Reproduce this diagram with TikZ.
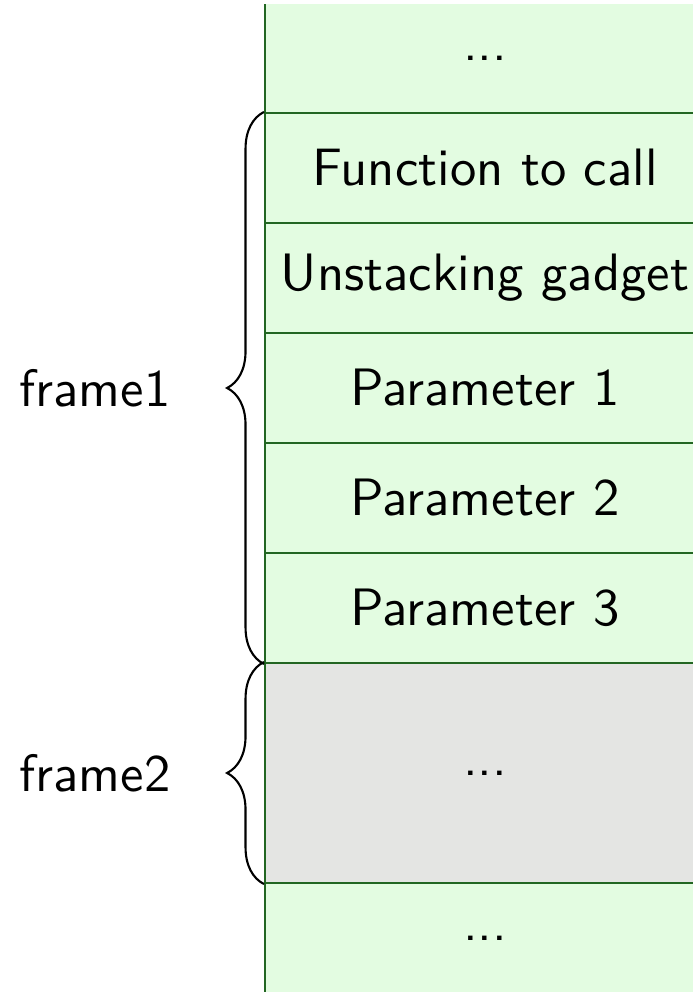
\documentclass[tikz,border=0pt]{standalone}
\usepackage{tikz}
\usetikzlibrary{decorations.pathreplacing}

\definecolor{stackline}{RGB}{34,102,34}
\definecolor{stackfill}{RGB}{227,252,225}
\definecolor{otherfill}{RGB}{228,229,227}

\begin{document}
\begin{tikzpicture}[x=0.19pt, y=0.19pt, every node/.style={font=\sffamily},
        cell/.style={draw=stackline, fill=stackfill, minimum width=83.6pt, minimum height=20.9pt, inner sep=0pt},
        bracket/.style={decorate, decoration={brace, amplitude=7pt}}]
        \useasboundingbox (0,0) rectangle (693,992);
        \clip (0,0) rectangle (693,987.5);

        % Stack cells
        \node[cell] (c1) at (485,934) {...};
        \foreach \txt [count=\i from 2] in {Function to call, Unstacking gadget, Parameter 1, Parameter 2, Parameter 3} {
            \node[cell] (c\i) at (485,1044-110*\i) {\txt};
        }
        \node[cell, fill=otherfill, minimum height=41.8pt] (other) at (485,219) {...};
        \node[cell] (bottom) at (485,54) {...};

        % Frame labels
        \node (frame1) at (95,604) {frame1};
        \node (frame2) at (95,219) {frame2};

        % Braces
        \draw[bracket] (c6.south west) -- (c2.north west);
        \draw[bracket] (other.south west) -- (other.north west);
    \end{tikzpicture}
\end{document}
